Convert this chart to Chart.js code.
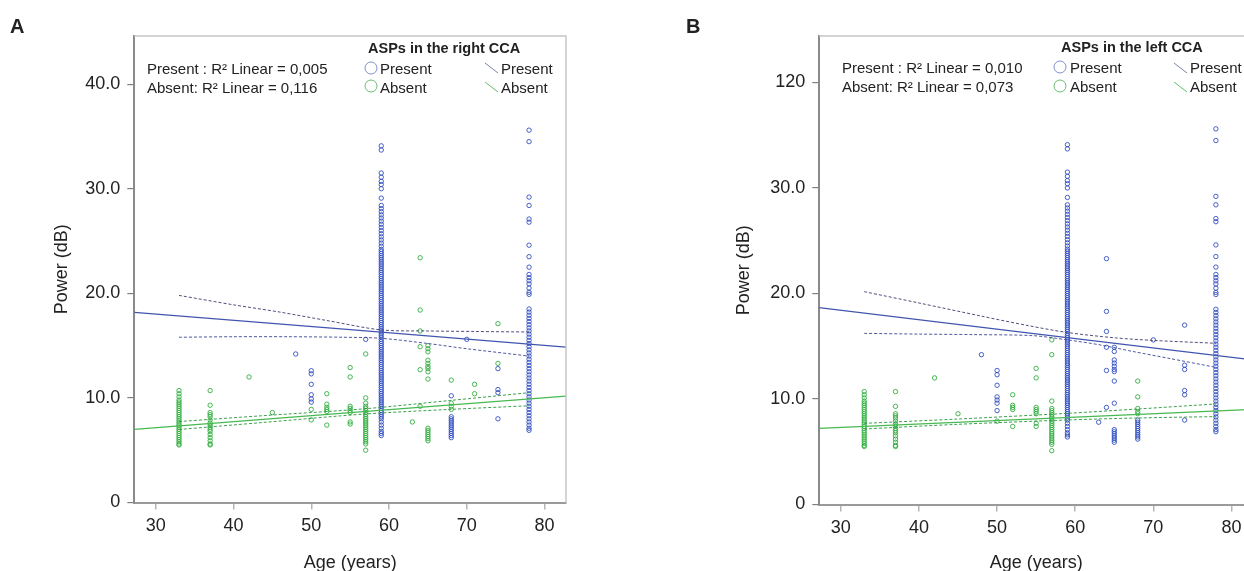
<!DOCTYPE html>
<html><head><meta charset="utf-8">
<script src="https://cdn.jsdelivr.net/npm/chart.js@4.4.1/dist/chart.umd.min.js"></script>
<style>
html,body{margin:0;padding:0;background:#fff;}
body{width:1244px;height:571px;overflow:hidden;position:relative;font-family:'Liberation Sans',Arial,sans-serif;color:#222;}
.panel{position:absolute;top:0;width:600px;height:580px;}
.t{position:absolute;white-space:nowrap;line-height:normal;z-index:2;}
.lbl{font-size:20px;font-weight:bold;}
.r2{font-size:15px;}
.lt{font-size:14.5px;font-weight:bold;}
.li{font-size:15px;}
svg.g{position:absolute;left:0;top:0;z-index:2;pointer-events:none;}
</style></head><body>
<div class="panel" style="left:0"><canvas id="cA" width="600" height="580"></canvas></div>
<div class="panel" style="left:685px"><canvas id="cB" width="600" height="580"></canvas></div>

<div class="t lbl" style="left:10px;top:15px">A</div>
<div class="t r2" style="left:147px;top:60px">Present : R² Linear = 0,005</div>
<div class="t r2" style="left:147px;top:79px">Absent: R² Linear = 0,116</div>
<div class="t lt" style="left:368px;top:40px">ASPs in the right CCA</div>
<div class="t li" style="left:380px;top:60px">Present</div>
<div class="t li" style="left:380px;top:79px">Absent</div>
<div class="t li" style="left:501px;top:60px">Present</div>
<div class="t li" style="left:501px;top:79px">Absent</div>

<div class="t lbl" style="left:686px;top:15px">B</div>
<div class="t r2" style="left:842px;top:59px">Present : R² Linear = 0,010</div>
<div class="t r2" style="left:842px;top:78px">Absent: R² Linear = 0,073</div>
<div class="t lt" style="left:1061px;top:39px">ASPs in the left CCA</div>
<div class="t li" style="left:1070px;top:59px">Present</div>
<div class="t li" style="left:1070px;top:78px">Absent</div>
<div class="t li" style="left:1190px;top:59px">Present</div>
<div class="t li" style="left:1190px;top:78px">Absent</div>

<svg class="g" width="1244" height="571">
  <circle cx="371" cy="68" r="6" fill="none" stroke="rgba(90,110,190,0.75)" stroke-width="1"/>
  <circle cx="371" cy="86" r="6" fill="none" stroke="rgba(60,170,70,0.75)" stroke-width="1"/>
  <line x1="485" y1="63" x2="498" y2="73" stroke="rgba(90,100,150,0.8)" stroke-width="1"/>
  <line x1="485" y1="82" x2="498" y2="92" stroke="rgba(60,170,70,0.8)" stroke-width="1"/>
  <circle cx="1060" cy="67" r="6" fill="none" stroke="rgba(90,110,190,0.75)" stroke-width="1"/>
  <circle cx="1060" cy="86" r="6" fill="none" stroke="rgba(60,170,70,0.75)" stroke-width="1"/>
  <line x1="1174" y1="63" x2="1187" y2="73" stroke="rgba(90,100,150,0.8)" stroke-width="1"/>
  <line x1="1174" y1="82" x2="1187" y2="92" stroke="rgba(60,170,70,0.8)" stroke-width="1"/>
</svg>

<script>
// ---------- axes ----------
const ageTicks = [30, 40, 50, 60, 70, 80];
const powerTicks = [0, 10, 20, 30, 40];
const powerLabelsA = ['0', '10.0', '20.0', '30.0', '40.0'];
const powerLabelsB = ['0', '10.0', '20.0', '30.0', '120'];

// ---------- shared dense columns ----------
const col33 = [10.7, 10.4, 10.1, 9.8, 9.6, 9.4, 9.2, 9.0, 8.8, 8.6, 8.4, 8.2, 8.0, 7.8, 7.6, 7.4, 7.2, 7.0, 6.8, 6.6, 6.4, 6.2, 6.0, 5.8, 5.6, 5.5];
const col37 = [10.7, 9.3, 8.6, 8.4, 8.2, 7.9, 7.6, 7.4, 7.2, 7.0, 6.8, 6.5, 6.2, 5.9, 5.6, 5.5];
const col59 = [34.1, 33.7, 31.5, 31.1, 30.7, 30.4, 30.0, 29.1, 28.4, 28.1,
  27.8, 27.5, 27.2, 26.9, 26.6, 26.3, 26.0, 25.7, 25.4, 25.1, 24.8, 24.5, 24.2,
  24.0, 23.8, 23.6, 23.4, 23.2, 23.0, 22.8, 22.6, 22.4, 22.2, 22.0, 21.8, 21.6, 21.4, 21.2, 21.0,
  20.8, 20.6, 20.4, 20.2, 20.0, 19.8, 19.6, 19.4, 19.2, 19.0, 18.8, 18.6, 18.4, 18.2, 18.0,
  17.8, 17.6, 17.4, 17.2, 17.0, 16.8, 16.6, 16.4, 16.2, 16.0, 15.8, 15.6, 15.4, 15.2, 15.0,
  14.8, 14.6, 14.4, 14.2, 14.0, 13.8, 13.6, 13.4, 13.2, 13.0, 12.8, 12.6, 12.4, 12.2, 12.0,
  11.8, 11.6, 11.4, 11.2, 11.0, 10.8, 10.6, 10.4, 10.2, 10.0, 9.8, 9.6, 9.4, 9.2, 9.0,
  8.8, 8.6, 8.4, 8.2, 8.0, 7.7, 7.4, 7.1, 6.8, 6.6, 6.4];
const col78 = [35.6, 34.5, 29.2, 28.4, 27.1, 26.8, 24.6, 23.5, 22.5, 21.8, 21.5, 21.2, 20.9, 20.5, 20.1, 19.9,
  18.5, 18.2, 17.9, 17.6, 17.3, 17.0, 16.7, 16.4, 16.1, 15.8, 15.5, 15.2, 14.9, 14.6, 14.3, 14.0,
  13.7, 13.4, 13.1, 12.8, 12.5, 12.2, 11.9, 11.6, 11.3, 11.0, 10.7, 10.4, 10.1, 9.8, 9.5, 9.2,
  8.9, 8.6, 8.3, 8.0, 7.7, 7.4, 7.1, 6.9];

// ---------- panel A (right CCA) ----------
const aPresentCols = [
  [48, [14.2]],
  [50, [12.6, 12.3, 11.3, 10.3, 9.9, 9.6]],
  [57, [15.6]],
  [59, col59],
  [68, [10.2, 8.2, 8.0, 7.8, 7.6, 7.4, 7.2, 7.0, 6.8, 6.6, 6.4, 6.2]],
  [70, [15.6]],
  [74, [12.8, 10.8, 10.5, 8.0]],
  [78, col78]
];
const aAbsentCols = [
  [33, col33], [37, col37], [42, [12.0]], [45, [8.6]], [50, [8.9, 7.9]],
  [52, [10.4, 9.4, 9.1, 8.9, 8.7, 7.4]],
  [55, [12.9, 12.0, 9.2, 9.0, 8.8, 8.6, 7.7, 7.5]],
  [57, [14.2, 10.0, 9.5, 9.2, 9.0, 8.8, 8.6, 8.4, 8.2, 8.0, 7.8, 7.6, 7.4, 7.2, 7.0, 6.8, 6.6, 6.4, 6.2, 6.0, 5.8, 5.6, 5.0]],
  [63, [7.7]],
  [64, [23.4, 18.4, 16.4, 14.9, 12.7, 9.2]],
  [65, [15.0, 14.7, 14.4, 13.6, 13.3, 13.0, 12.8, 12.5, 11.8, 7.1, 6.9, 6.7, 6.5, 6.3, 6.1, 5.9]],
  [68, [11.7, 9.5, 9.2, 8.9]],
  [71, [11.3, 10.4]],
  [74, [17.1, 13.3]]
];
const aPresentFit = [[27.25, 18.18], [82.75, 14.86]];
const aPresentUpper = [[33, 19.8], [40, 18.9], [46, 18.2], [52, 17.4], [59, 16.5], [65, 16.4], [71, 16.35], [78, 16.3]];
const aPresentLower = [[33, 15.8], [40, 15.85], [47, 15.85], [54, 15.8], [59, 15.7], [65, 15.2], [70, 14.7], [78, 14.0]];
const aAbsentFit = [[27.25, 7.0], [82.75, 10.17]];
const aAbsentUpper = [[33, 7.74], [43.8, 8.3], [56.7, 8.95], [67.8, 9.75], [78, 10.5]];
const aAbsentLower = [[33, 6.98], [43.8, 7.65], [56.7, 8.45], [67.8, 8.9], [78, 9.25]];

// ---------- panel B (left CCA) ----------
const bPresentCols = [
  [48, [14.2]],
  [50, [12.7, 12.3, 11.3, 10.2, 9.9, 9.6, 8.9]],
  [59, col59],
  [63, [7.8]],
  [64, [23.3, 18.3, 16.4, 14.9, 12.7, 9.2]],
  [65, [14.9, 14.5, 13.7, 13.4, 13.1, 12.8, 12.6, 11.7, 9.6, 7.1, 6.9, 6.7, 6.5, 6.3, 6.1, 5.9]],
  [68, [8.0, 7.8, 7.6, 7.4, 7.2, 7.0, 6.8, 6.6, 6.4, 6.2]],
  [70, [15.6]],
  [74, [17.0, 13.2, 12.8, 10.8, 10.4, 8.0]],
  [78, col78]
];
const bAbsentCols = [
  [33, col33], [37, col37], [42, [12.0]], [45, [8.6]], [50, [7.9]],
  [52, [10.4, 9.4, 9.2, 9.0, 7.4]],
  [55, [12.9, 12.0, 9.2, 9.0, 8.8, 8.6, 7.7, 7.4]],
  [57, [15.6, 14.2, 9.8, 9.1, 8.9, 8.7, 8.5, 8.3, 8.1, 7.9, 7.7, 7.5, 7.3, 7.1, 6.9, 6.7, 6.5, 6.3, 6.1, 5.9, 5.7, 5.1]],
  [68, [11.7, 10.2, 9.1, 8.8, 8.6]]
];
const bPresentFit = [[27.2, 18.65], [82.75, 13.7]];
const bPresentUpper = [[33, 20.17], [40, 19.1], [48, 17.85], [54, 16.95], [59, 16.3], [65, 15.8], [70, 15.55], [78, 15.28]];
const bPresentLower = [[33, 16.22], [40, 16.15], [47, 16.1], [54.6, 16.0], [59, 15.6], [63, 15.15], [67.4, 14.5], [72, 13.85], [78, 13.0]];
const bAbsentFit = [[27.2, 7.22], [82.75, 9.02]];
const bAbsentUpper = [[33, 7.69], [45, 8.1], [59, 8.64], [68, 9.05], [78, 9.53]];
const bAbsentLower = [[33, 7.16], [45, 7.6], [59, 8.01], [68, 8.2], [78, 8.33]];

// ---------- helpers ----------
const FONT = "'Liberation Sans', Arial, sans-serif";
const BLUE = 'rgba(40,70,190,0.85)';
const GREEN = 'rgba(40,170,55,0.85)';
function toPoints(cols) {
  const pts = [];
  cols.forEach(([age, vals]) => vals.forEach(v => pts.push({x: age, y: v})));
  return pts;
}
function scatterSet(cols, color) {
  return { type: 'scatter', data: toPoints(cols), order: 2, showLine: false,
    pointStyle: 'circle', pointRadius: 2.2, pointBorderWidth: 1,
    borderColor: color, backgroundColor: 'rgba(0,0,0,0)', pointHoverRadius: 2.2 };
}
function lineSet(pairs, color, dash, width) {
  return { type: 'line', data: pairs.map(([x, y]) => ({x, y})), order: 1,
    borderColor: color, borderWidth: width, borderDash: dash, pointRadius: 0, fill: false, tension: 0.3 };
}
const framePlugin = {
  id: 'frame',
  afterDraw(chart) {
    const {ctx, chartArea: a} = chart;
    ctx.save();
    ctx.strokeStyle = '#c6c6c6';
    ctx.lineWidth = 1.5;
    ctx.beginPath();
    ctx.moveTo(a.left, a.top); ctx.lineTo(a.right, a.top); ctx.lineTo(a.right, a.bottom);
    ctx.stroke();
    ctx.restore();
  }
};

function makeChart(id, o) {
  return new Chart(document.getElementById(id), {
    type: 'scatter',
    data: { datasets: [
      lineSet(o.pFit, 'rgb(65,85,175)', [], 1.2),
      lineSet(o.pUp, 'rgba(60,60,110,0.9)', [3, 2], 1),
      lineSet(o.pLo, 'rgba(60,70,150,0.9)', [3, 2], 1),
      lineSet(o.aFit, 'rgb(70,185,80)', [], 1.2),
      lineSet(o.aUp, 'rgba(40,150,60,0.9)', [3, 2], 1),
      lineSet(o.aLo, 'rgba(40,150,60,0.9)', [3, 2], 1),
      scatterSet(o.present, BLUE),
      scatterSet(o.absent, GREEN)
    ]},
    options: {
      responsive: false, animation: false, devicePixelRatio: 1,
      layout: { padding: { left: 0, top: 36, right: o.padRight, bottom: 0 } },
      plugins: { legend: { display: false }, tooltip: { enabled: false } },
      scales: {
        x: {
          type: 'linear', min: 27.25, max: 82.75,
          afterBuildTicks: s => { s.ticks = ageTicks.map(v => ({value: v})); },
          afterFit: s => { s.height = o.xH; },
          grid: { drawOnChartArea: false, drawTicks: true, tickLength: 7, color: '#b5b5b5', lineWidth: 1.5 },
          border: { display: true, color: '#9a9a9a', width: 2 },
          ticks: { color: '#222', font: { size: 18, family: FONT }, padding: 6, maxRotation: 0, autoSkip: false,
            callback: v => String(v) },
          title: { display: true, text: 'Age (years)', color: '#222', font: { size: 18, family: FONT },
            padding: { top: 0, bottom: 6 } }
        },
        y: {
          type: 'linear', min: 0, max: o.yMax,
          afterBuildTicks: s => { s.ticks = powerTicks.map(v => ({value: v})); },
          afterFit: s => { s.width = 134.3; },
          grid: { drawOnChartArea: false, drawTicks: true, tickLength: 7, color: '#808080', lineWidth: 1.2 },
          border: { display: true, color: '#8a8a8a', width: 2 },
          ticks: { color: '#222', font: { size: 18, family: FONT }, padding: 7,
            callback: (v, i) => o.labels[i] },
          title: { display: true, text: 'Power (dB)', color: '#222', font: { size: 18, family: FONT },
            padding: { top: o.titlePad, bottom: 0 } }
        }
      }
    },
    plugins: [framePlugin]
  });
}

makeChart('cA', { present: aPresentCols, absent: aAbsentCols,
  pFit: aPresentFit, pUp: aPresentUpper, pLo: aPresentLower,
  aFit: aAbsentFit, aUp: aAbsentUpper, aLo: aAbsentLower,
  labels: powerLabelsA, yMax: 44.6, xH: 77.5, padRight: 34, titlePad: 51 });
makeChart('cB', { present: bPresentCols, absent: bAbsentCols,
  pFit: bPresentFit, pUp: bPresentUpper, pLo: bPresentLower,
  aFit: bAbsentFit, aUp: bAbsentUpper, aLo: bAbsentLower,
  labels: powerLabelsB, yMax: 44.4, xH: 75.5, padRight: 32, titlePad: 48 });
</script>
</body></html>
